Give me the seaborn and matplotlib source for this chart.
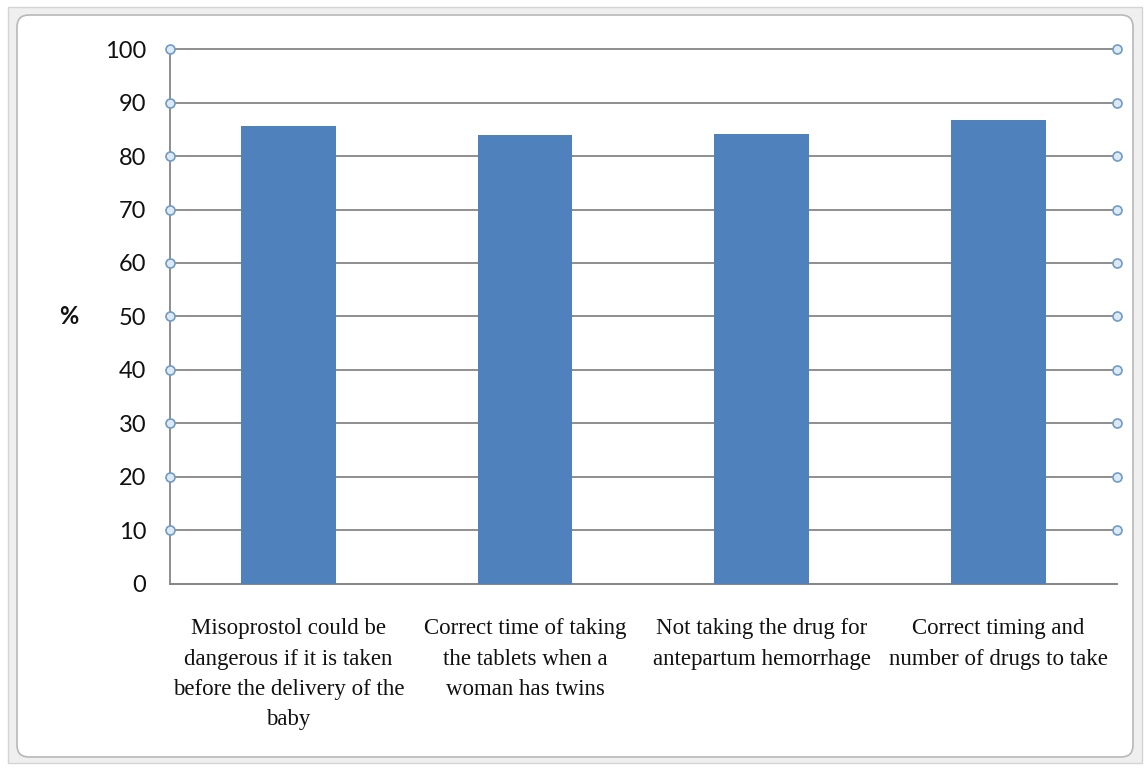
#!/usr/bin/env python3
"""
Bar chart of correct answers (%) on misoprostol knowledge items,
redrawn in the style of an Excel 2007 chart.
"""

import matplotlib
matplotlib.use("Agg")
import matplotlib.pyplot as plt
from matplotlib.patches import FancyBboxPatch
import seaborn as sns

# Chart data
categories = [
    "Misoprostol could be\ndangerous if it is taken\nbefore the delivery of the\nbaby",
    "Correct time of taking\nthe tablets when a\nwoman has twins",
    "Not taking the drug for\nantepartum hemorrhage",
    "Correct timing and\nnumber of drugs to take",
]
percent_values = [85.7, 83.9, 84.1, 86.7]
y_ticks = [0, 10, 20, 30, 40, 50, 60, 70, 80, 90, 100]
y_label = "%"

BAR_COLOR = "#4F81BD"
GRID_COLOR = "#868686"


def draw_frame(fig):
    """Draw the grey window band and the rounded white chart area."""
    outer = FancyBboxPatch((0.08, 0.05), 11.34, 7.56,
                           boxstyle="square,pad=0",
                           facecolor="#efefef", edgecolor="#d4d4d4",
                           linewidth=1.0, transform=fig.dpi_scale_trans,
                           zorder=-10)
    inner = FancyBboxPatch((0.17, 0.11), 11.16, 7.42,
                           boxstyle="round,pad=0,rounding_size=0.12",
                           facecolor="white", edgecolor="#b8b8b8",
                           linewidth=1.2, transform=fig.dpi_scale_trans,
                           zorder=-9)
    fig.patches.extend([outer, inner])


def create_chart(output_file):
    sns.set_style("white")
    plt.rcParams["font.family"] = ["Lato", "DejaVu Sans"]

    fig = plt.figure(figsize=(11.48, 7.68), dpi=100)
    draw_frame(fig)
    ax = fig.add_axes([0.148, 0.240, 0.825, 0.696])
    ax.set_facecolor("none")

    sns.barplot(x=categories, y=percent_values, color=BAR_COLOR,
                saturation=1, width=0.4, linewidth=0, ax=ax, zorder=3)

    # Axis limits and gridlines
    ax.set_xlim(-0.5, len(categories) - 0.5)
    ax.set_ylim(y_ticks[0], y_ticks[-1])
    ax.set_yticks(y_ticks)
    ax.yaxis.grid(True, color=GRID_COLOR, linewidth=1.3)
    for line in ax.yaxis.get_gridlines():
        line.set_clip_on(False)
    ax.set_axisbelow(True)

    for side in ["top", "right"]:
        ax.spines[side].set_visible(False)
    for side in ["left", "bottom"]:
        ax.spines[side].set_color(GRID_COLOR)
        ax.spines[side].set_linewidth(1.3)

    # Y ticks (Calibri-like sans)
    ax.tick_params(axis="y", length=5, width=1.2, color=GRID_COLOR,
                   pad=12, labelsize=17, labelcolor="#111111")

    # Category labels (serif) with tick marks at the category boundaries
    ax.set_xticks(range(len(categories)))
    ax.set_xticklabels(categories, family=["Liberation Serif"], fontsize=16.5,
                       linespacing=1.58, color="#111111")
    ax.tick_params(axis="x", which="major", length=0, pad=25)
    ax.set_xticks([i - 0.5 for i in range(len(categories) + 1)], minor=True)
    ax.tick_params(axis="x", which="minor", length=8, width=1.2,
                   color=GRID_COLOR)

    ax.set_xlabel("")
    ax.set_ylabel(y_label, rotation=0, fontsize=17, fontweight="bold",
                  labelpad=26, va="center", color="#111111")

    # Small selection-handle circles at both ends of each gridline
    handle_ticks = y_ticks[1:]
    trans = ax.get_yaxis_transform()
    for x_pos in [0, 1]:
        ax.scatter([x_pos] * len(handle_ticks), handle_ticks, s=42,
                   facecolor="#dde9f4", edgecolor="#6f9cc4", linewidth=1.2,
                   transform=trans, clip_on=False, zorder=5)

    plt.savefig(output_file, dpi=100)
    plt.close()


def main():
    create_chart("out.png")


if __name__ == "__main__":
    main()
